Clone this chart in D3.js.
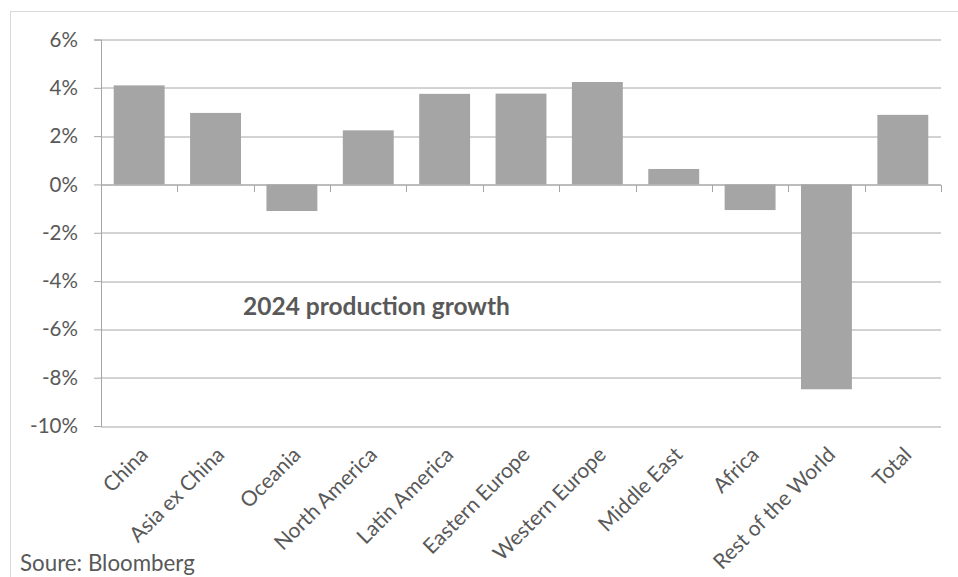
<!DOCTYPE html>
<html>
<head>
<meta charset="utf-8">
<script src="https://cdn.jsdelivr.net/npm/d3@7"></script>
<style>
  body { margin: 0; background: #fff; }
  svg text { font-family: Lato, "Open Sans", sans-serif; fill: #595959; }
</style>
</head>
<body>
<div id="vis"></div>
<script>
// data
var regions = ["China", "Asia ex China", "Oceania", "North America", "Latin America",
               "Eastern Europe", "Western Europe", "Middle East", "Africa", "Rest of the World", "Total"];
var growth = [4.1, 2.96, -1.1, 2.24, 3.75, 3.76, 4.24, 0.64, -1.06, -8.48, 2.88];
var yTicks = [6, 4, 2, 0, -2, -4, -6, -8, -10];

var W = 958, H = 577;
var margin = {top: 39.5, right: 17, bottom: 151, left: 101},
    width = W - margin.left - margin.right,
    height = H - margin.top - margin.bottom;

var svg = d3.select("#vis").append("svg")
    .attr("width", W)
    .attr("height", H);

// pick a font size so the text is as wide as it is in the picture
function fitFont(sel, target) {
  sel.style("font-size", "20px");
  var w = sel.node().getComputedTextLength();
  return 20 * target / w;
}

// chart frame (bottom and right edge run off the picture)
svg.append("rect")
    .attr("x", 10.5).attr("y", 11.5)
    .attr("width", W).attr("height", H)
    .attr("fill", "none")
    .attr("stroke", "#d9d9d9");

var g = svg.append("g")
    .attr("transform", "translate(" + margin.left + "," + margin.top + ")");

var x = d3.scaleBand()
    .domain(regions)
    .range([0, width])
    .paddingInner(1/3)
    .paddingOuter(1/6);

var y = d3.scaleLinear()
    .domain([-10, 6])
    .range([height, 0]);

// gridlines
g.append("g").selectAll("line")
    .data(yTicks)
    .enter().append("line")
    .attr("x1", 0).attr("x2", width)
    .attr("y1", function(d) { return Math.round(y(d)) + 0.5; })
    .attr("y2", function(d) { return Math.round(y(d)) + 0.5; })
    .attr("stroke", "#a6a6a6")
    .attr("stroke-width", 1);

// y axis
var yAxis = g.append("g")
    .call(d3.axisLeft(y).tickValues(yTicks).tickSize(7).tickPadding(16)
      .tickFormat(function(d) { return d + "%"; }));
yAxis.select(".domain").attr("stroke", "#a6a6a6");
yAxis.selectAll(".tick line").attr("stroke", "#a6a6a6");
var yLabs = yAxis.selectAll("text").attr("fill", "#595959");
var ySize = fitFont(yAxis.selectAll("text").filter(function(d) { return d === -10; }), 48);
yLabs.style("font-size", ySize + "px");

// bars
g.append("g").selectAll("rect")
    .data(growth)
    .enter().append("rect")
    .attr("x", function(d, i) { return x(regions[i]); })
    .attr("width", x.bandwidth())
    .attr("y", function(d) { return y(Math.max(0, d)); })
    .attr("height", function(d) { return Math.abs(y(d) - y(0)); })
    .attr("fill", "#a5a5a5");

// x axis on zero line, ticks between categories
var step = x.step();
var bounds = d3.range(regions.length + 1).map(function(i) { return i * step; });
var xAxis = g.append("g").attr("transform", "translate(0," + (Math.round(y(0)) + 0.5) + ")");
xAxis.append("line")
    .attr("x1", 0).attr("x2", width)
    .attr("stroke", "#a6a6a6");
xAxis.selectAll(".tk")
    .data(bounds)
    .enter().append("line")
    .attr("class", "tk")
    .attr("x1", function(d) { return Math.round(d) + 0.5; })
    .attr("x2", function(d) { return Math.round(d) + 0.5; })
    .attr("y1", 0).attr("y2", 7)
    .attr("stroke", "#a6a6a6");

// rotated category labels
var catLabs = g.append("g").selectAll("text")
    .data(regions)
    .enter().append("text")
    .attr("text-anchor", "end")
    .attr("transform", function(d) {
      return "translate(" + (x(d) + x.bandwidth() / 2 + 10) + "," + (height + 30) + ") rotate(-45)";
    })
    .text(function(d) { return d; });
var catSize = fitFont(catLabs.filter(function(d) { return d === "Rest of the World"; }), 162);
catLabs.style("font-size", catSize + "px");

// inner label
var inner = svg.append("text")
    .attr("x", 243)
    .attr("y", 315)
    .style("font-weight", "bold")
    .text("2024 production growth");
inner.style("font-size", fitFont(inner, 267) + "px");

// source
var src = svg.append("text")
    .attr("x", 20)
    .attr("y", 571)
    .text("Soure: Bloomberg");
src.style("font-size", fitFont(src, 175) + "px");
</script>
</body>
</html>
